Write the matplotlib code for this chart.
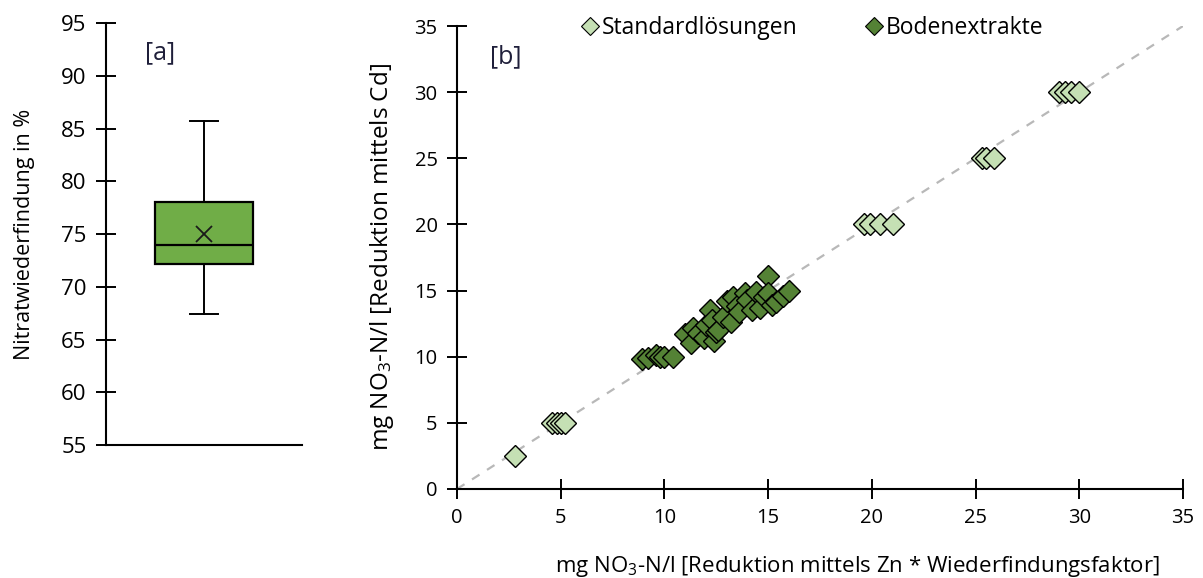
import matplotlib
matplotlib.use("Agg")
import matplotlib.pyplot as plt
from matplotlib.lines import Line2D

plt.rcParams["font.family"] = ["Open Sans", "DejaVu Sans"]
plt.rcParams["mathtext.fontset"] = "custom"
plt.rcParams["mathtext.rm"] = "Open Sans"
plt.rcParams["mathtext.it"] = "Open Sans:italic"

# Panel [a]: nitrate recovery summary (percent)
recovery_whislo = 67.4
recovery_q1 = 72.2
recovery_med = 74.0
recovery_mean = 75.0
recovery_q3 = 78.0
recovery_whishi = 85.7
recovery_ticks = [55, 60, 65, 70, 75, 80, 85, 90, 95]

# Panel [b]: Cd reduction vs. Zn reduction * recovery factor (mg NO3-N/l)
std_x = [2.8, 4.6, 4.8, 5.0, 5.2, 19.6, 19.9, 20.4, 21.0, 25.3, 25.5, 25.9,
         29.0, 29.3, 29.6, 30.0]
std_y = [2.5, 5.0, 5.0, 5.0, 5.0, 20.0, 20.0, 20.0, 20.0, 25.0, 25.0, 25.0,
         30.0, 30.0, 30.0, 30.0]
soil_x = [8.9, 9.2, 9.6, 9.8, 10.0, 10.4,
          11.0, 11.3, 11.4, 11.6, 11.9, 12.0, 12.2, 12.3, 12.4, 12.5, 12.6,
          12.8, 13.0, 13.2, 13.3, 13.5, 13.6, 13.9, 14.0, 14.2, 14.4, 14.6,
          14.8, 15.0, 15.0, 15.2, 15.4, 15.7, 16.0]
soil_y = [9.8, 9.9, 10.1, 10.0, 10.0, 10.0,
          11.7, 11.0, 12.2, 11.8, 11.4, 12.4, 13.5, 12.8, 11.2, 11.9, 12.0,
          13.0, 14.2, 12.6, 14.5, 13.8, 13.4, 14.8, 14.3, 13.5, 14.9, 13.7,
          14.5, 16.1, 14.8, 13.9, 14.1, 14.6, 15.0]
xy_ticks = [0, 5, 10, 15, 20, 25, 30, 35]

fig = plt.figure(figsize=(12.03, 5.78), dpi=100)

spine_lw = 1.5
tick_kw = dict(direction="inout", length=14, width=1.4, colors="black", pad=7)

# ---------- panel [a] ----------
ax1 = fig.add_axes([0.0881, 0.2301, 0.1630, 0.7301])
stats = [dict(whislo=recovery_whislo, q1=recovery_q1, med=recovery_med,
              q3=recovery_q3, whishi=recovery_whishi, mean=recovery_mean,
              fliers=[])]
ax1.bxp(stats, positions=[1], widths=0.5, capwidths=0.14, patch_artist=True,
        showmeans=True,
        boxprops=dict(facecolor="#70ad47", edgecolor="black", linewidth=1.6),
        medianprops=dict(color="black", linewidth=1.6),
        whiskerprops=dict(color="black", linewidth=1.4),
        capprops=dict(color="black", linewidth=1.4),
        meanprops=dict(marker="x", markeredgecolor="#1a1a1a",
                       markerfacecolor="#1a1a1a", markersize=12,
                       markeredgewidth=1.3))
ax1.set_xlim(0.5, 1.5)
ax1.set_ylim(55, 95)
ax1.set_yticks(recovery_ticks)
ax1.set_xticks([])
for s in ("top", "right"):
    ax1.spines[s].set_visible(False)
for s in ("left", "bottom"):
    ax1.spines[s].set_linewidth(spine_lw)
ax1.tick_params(axis="y", labelsize=16, **tick_kw)
ax1.set_ylabel("Nitratwiederfindung in %", fontsize=15.5)
ax1.yaxis.set_label_coords(-0.36, 0.5)
ax1.text(0.2, 0.93, "[a]", transform=ax1.transAxes, fontsize=18,
         color="#1f1f3a", ha="left", va="center")

# ---------- panel [b] ----------
ax2 = fig.add_axes([0.3799, 0.1540, 0.6035, 0.8010])
ax2.plot([0, 35], [0, 35], linestyle=(0, (4, 4)), color="#b8b8b8",
         linewidth=1.6, zorder=1)
ax2.plot(std_x, std_y, linestyle="none", marker="D", markersize=11.5,
         markerfacecolor="#c5e0b4", markeredgecolor="black",
         markeredgewidth=1.0, zorder=3)
ax2.plot(soil_x, soil_y, linestyle="none", marker="D", markersize=11.5,
         markerfacecolor="#548235", markeredgecolor="black",
         markeredgewidth=1.0, zorder=3)
ax2.set_xlim(0, 35)
ax2.set_ylim(0, 35)
ax2.set_xticks(xy_ticks)
ax2.set_yticks(xy_ticks)
for s in ("top", "right"):
    ax2.spines[s].set_visible(False)
for s in ("left", "bottom"):
    ax2.spines[s].set_linewidth(spine_lw)
ax2.tick_params(axis="both", labelsize=14.5, **tick_kw)
ax2.set_xlabel("mg NO$_3$-N/l [Reduktion mittels Zn * Wiederfindungsfaktor]",
               fontsize=16)
ax2.xaxis.set_label_coords(0.551, -0.14)
ax2.set_ylabel("mg NO$_3$-N/l [Reduktion mittels Cd]", fontsize=17.5)
ax2.yaxis.set_label_coords(-0.084, 0.5)
ax2.text(0.045, 0.933, "[b]", transform=ax2.transAxes, fontsize=18,
         color="#1f1f3a", ha="left", va="center")

handles = [
    Line2D([], [], linestyle="none", marker="D", markersize=9,
           markerfacecolor="#c5e0b4", markeredgecolor="black",
           markeredgewidth=0.8, label="Standardlösungen"),
    Line2D([], [], linestyle="none", marker="D", markersize=9,
           markerfacecolor="#548235", markeredgecolor="black",
           markeredgewidth=0.8, label="Bodenextrakte"),
]
ax2.legend(handles=handles, loc="center", bbox_to_anchor=(0.490, 0.996),
           ncol=2, frameon=False, fontsize=16.5, handlelength=0.7,
           handletextpad=0.15, columnspacing=3.0, borderaxespad=0)

fig.savefig("out.png", dpi=100)
